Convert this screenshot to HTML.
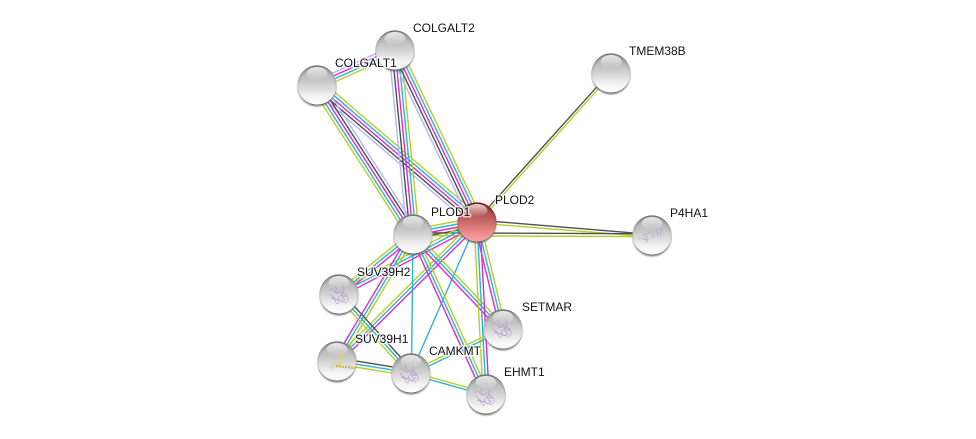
<!DOCTYPE html>
<html><head><meta charset="utf-8">
<style>
html,body{margin:0;padding:0;background:#fff;width:976px;height:439px;overflow:hidden}
svg{display:block}
text{font-family:"Liberation Sans",sans-serif;font-size:12px;fill:#111;paint-order:stroke;stroke:rgba(255,255,255,.7);stroke-width:3px}
.l{stroke:#b4b4fa}.k{stroke:#505050}.m{stroke:#d82cd8}.c{stroke:#2cb4d8}.g{stroke:#b4d028}
line{stroke-width:1.4;fill:none}
.s{fill:none;stroke:#b08ed0;stroke-width:.6;opacity:.85}
</style></head><body>
<svg width="976" height="439" viewBox="0 0 976 439" xmlns="http://www.w3.org/2000/svg">
<defs>
<linearGradient id="nb" x1="0" y1="0" x2="0" y2="1">
<stop offset="0" stop-color="#a4a4a4"/><stop offset=".45" stop-color="#cdcdcd"/><stop offset=".8" stop-color="#f4f4f4"/><stop offset="1" stop-color="#ffffff"/>
</linearGradient>
<linearGradient id="rb" x1="0" y1="0" x2="0" y2="1">
<stop offset="0" stop-color="#943434"/><stop offset=".45" stop-color="#c46464"/><stop offset=".8" stop-color="#f08e8e"/><stop offset="1" stop-color="#f8a4a4"/>
</linearGradient>
<linearGradient id="hl" x1="0" y1="0" x2="0" y2="1">
<stop offset="0" stop-color="#fff" stop-opacity=".8"/><stop offset="1" stop-color="#fff" stop-opacity="0"/>
</linearGradient>
<radialGradient id="rim" cx="50%" cy="58%" r="57%">
<stop offset=".8" stop-color="#555" stop-opacity="0"/><stop offset=".95" stop-color="#555" stop-opacity=".3"/><stop offset="1" stop-color="#444" stop-opacity=".7"/>
</radialGradient>
<radialGradient id="rrim" cx="50%" cy="58%" r="57%">
<stop offset=".8" stop-color="#601010" stop-opacity="0"/><stop offset=".95" stop-color="#601010" stop-opacity=".4"/><stop offset="1" stop-color="#500808" stop-opacity=".8"/>
</radialGradient>
<radialGradient id="sh" cx="50%" cy="50%" r="50%">
<stop offset=".86" stop-color="#444" stop-opacity=".8"/><stop offset="1" stop-color="#777" stop-opacity="0"/>
</radialGradient>
<g id="node">
<circle cx="0" cy="2.2" r="20.6" fill="url(#sh)"/>
<circle r="19.6" fill="url(#nb)"/>
<circle r="19.6" fill="url(#rim)"/>
<ellipse cx="0" cy="-11.5" rx="10.5" ry="6.5" fill="url(#hl)"/>
</g>
<g id="rnode">
<circle cx="0" cy="2.2" r="20.6" fill="url(#sh)"/>
<circle r="19.6" fill="url(#rb)"/>
<circle r="19.6" fill="url(#rrim)"/>
<ellipse cx="0" cy="-11.5" rx="10.5" ry="6.5" fill="url(#hl)"/>
</g>
<g id="prot">
<path class="s" d="M-11,-5 q3,-3 5,0 t4,2 q2,-4 5,-1 t4,3 q-3,3 -5,1 t-4,3 q-3,2 -5,-1 t-3,-4 M-6,-10 q3,1 2,4 t3,3 q3,-1 3,3 t3,3 q-1,3 -4,2 t-3,3 q-3,-1 -3,-4 t-3,-3 M3,-9 q2,2 0,4 t1,4 q3,0 4,3 t-2,4 M-9,3 q2,-2 4,0 t4,0 q1,3 4,3 t3,2"/>
</g>
</defs>

<!-- edges -->
<g>
<line class="l" x1="315.2" y1="80.9" x2="393.2" y2="45.9"/><line class="m" x1="316.4" y1="83.6" x2="394.4" y2="48.6"/><line class="c" x1="317.6" y1="86.4" x2="395.6" y2="51.4"/><line class="g" x1="318.8" y1="89.1" x2="396.8" y2="54.1"/>

<line class="l" x1="313.1" y1="89.6" x2="473.1" y2="226.6"/><line class="k" x1="315.05" y1="87.3" x2="475.05" y2="224.3"/><line class="m" x1="317" y1="85" x2="477" y2="222"/><line class="c" x1="318.95" y1="82.7" x2="478.95" y2="219.7"/><line class="g" x1="320.9" y1="80.4" x2="480.9" y2="217.4"/>

<line class="l" x1="322" y1="81.8" x2="418" y2="230.8"/><line class="k" x1="319.5" y1="83.4" x2="415.5" y2="232.4"/><line class="m" x1="317" y1="85" x2="413" y2="234"/><line class="c" x1="314.5" y1="86.6" x2="410.5" y2="235.6"/><line class="g" x1="312" y1="88.2" x2="408" y2="237.2"/>

<line class="l" x1="389" y1="50.6" x2="407" y2="234.6"/><line class="k" x1="392" y1="50.3" x2="410" y2="234.3"/><line class="m" x1="395" y1="50" x2="413" y2="234"/><line class="c" x1="398" y1="49.7" x2="416" y2="233.7"/><line class="g" x1="401" y1="49.4" x2="419" y2="233.4"/>

<line class="l" x1="389.6" y1="52.6" x2="471.6" y2="224.6"/><line class="k" x1="392.3" y1="51.3" x2="474.3" y2="223.3"/><line class="m" x1="395" y1="50" x2="477" y2="222"/><line class="c" x1="397.7" y1="48.7" x2="479.7" y2="220.7"/><line class="g" x1="400.4" y1="47.4" x2="482.4" y2="219.4"/>

<line class="k" x1="610.1" y1="72.2" x2="476.1" y2="221.2"/><line class="g" x1="611.9" y1="73.8" x2="477.9" y2="222.8"/>

<line class="k" x1="477" y1="220" x2="652" y2="234.5"/><line class="g" x1="477" y1="223" x2="652" y2="237"/>
<line class="k" x1="413" y1="232.8" x2="652" y2="233.8"/><line class="g" x1="413" y1="235.6" x2="652" y2="236.6"/>

<line class="g" x1="412.2" y1="229.6" x2="476.2" y2="217.6"/><line class="c" x1="412.7" y1="232.5" x2="476.7" y2="220.5"/><line class="m" x1="413.3" y1="235.5" x2="477.3" y2="223.5"/><line class="k" x1="413.8" y1="238.4" x2="477.8" y2="226.4"/>

<line class="g" x1="411.1" y1="231.7" x2="337.1" y2="291.7"/><line class="c" x1="413" y1="234" x2="339" y2="294"/><line class="m" x1="414.9" y1="236.3" x2="340.9" y2="296.3"/>
<line class="g" x1="475.6" y1="219.3" x2="337.6" y2="291.3"/><line class="c" x1="477" y1="222" x2="339" y2="294"/><line class="m" x1="478.4" y1="224.7" x2="340.4" y2="296.7"/>

<line class="m" x1="410.4" y1="232.5" x2="334.4" y2="359.5"/><line class="c" x1="413" y1="234" x2="337" y2="361"/><line class="g" x1="415.6" y1="235.5" x2="339.6" y2="362.5"/>
<line class="g" x1="474.9" y1="219.9" x2="334.9" y2="358.9"/><line class="c" x1="477" y1="222" x2="337" y2="361"/><line class="m" x1="479.1" y1="224.1" x2="339.1" y2="363.1"/>

<line class="c" x1="413" y1="234" x2="411.5" y2="373"/>
<line class="c" x1="477" y1="222" x2="411" y2="373"/>

<line class="k" x1="341.2" y1="292" x2="413.2" y2="371"/><line class="c" x1="339" y1="294" x2="411" y2="373"/><line class="g" x1="336.8" y1="296" x2="408.8" y2="375"/>

<line class="m" x1="410.8" y1="236.1" x2="500.8" y2="331.1"/><line class="c" x1="413" y1="234" x2="503" y2="329"/><line class="g" x1="415.2" y1="231.9" x2="505.2" y2="326.9"/>
<line class="m" x1="474.1" y1="222.7" x2="500.1" y2="329.7"/><line class="c" x1="477" y1="222" x2="503" y2="329"/><line class="g" x1="479.9" y1="221.3" x2="505.9" y2="328.3"/>

<line class="m" x1="410.3" y1="235.3" x2="483.3" y2="395.3"/><line class="c" x1="413" y1="234" x2="486" y2="394"/><line class="g" x1="415.7" y1="232.8" x2="488.7" y2="392.8"/>
<line class="g" x1="474" y1="222" x2="483" y2="394"/><line class="c" x1="477" y1="222" x2="486" y2="394"/><line class="m" x1="480" y1="222" x2="489" y2="394"/>

<line class="k" x1="337.5" y1="358" x2="411.5" y2="370"/><line class="c" x1="337" y1="361" x2="411" y2="373"/><line class="g" x1="336.5" y1="364" x2="410.5" y2="376"/>
<line class="g" x1="411.35" y1="371.75" x2="486.35" y2="392.75"/><line class="c" x1="410.65" y1="374.25" x2="485.65" y2="395.25"/>
<line class="g" x1="410.4" y1="371.8" x2="502.4" y2="327.8"/><line class="c" x1="411.6" y1="374.2" x2="503.6" y2="330.2"/>
</g>

<!-- nodes -->
<use href="#node" x="395" y="50"/>
<use href="#node" x="317" y="85"/>
<use href="#node" x="611" y="73"/>
<use href="#node" x="413" y="234"/>
<use href="#rnode" x="477" y="222"/>
<use href="#node" x="652" y="235"/>
<use href="#node" x="339" y="294"/>
<use href="#node" x="503" y="329"/>
<use href="#node" x="337" y="361"/>
<use href="#node" x="411" y="373"/>
<use href="#node" x="486" y="394"/>

<!-- structures -->
<use href="#prot" x="340" y="296"/>
<use href="#prot" x="503" y="330"/>
<use href="#prot" x="410" y="375"/>
<use href="#prot" x="486" y="398"/>
<path class="s" d="M645,243 q3,-3 0,-5 t1,-5 M647,242 q2,-3 0,-5 t2,-5 M652,238 q3,-2 1,-4 t2,-3 M657,237 q2,-3 0,-5 t2,-4 M660,236 q2,-3 1,-5 t1,-3 M638,238 l9,2" />
<path d="M331,370 l3,-7 l3,-1 l-2,5 M338,367 l4,-14 l1,6 l-3,8" fill="none" stroke="#dcd47c" stroke-width="1"/>
<path d="M336,366 l19,2" fill="none" stroke="#ccb450" stroke-width="2.2" stroke-dasharray="2 1"/>

<!-- labels -->
<text x="413" y="32">COLGALT2</text>
<text x="335" y="67">COLGALT1</text>
<text x="629" y="55">TMEM38B</text>
<text x="495" y="204">PLOD2</text>
<text x="431" y="216">PLOD1</text>
<text x="670" y="217">P4HA1</text>
<text x="357" y="276">SUV39H2</text>
<text x="522" y="311">SETMAR</text>
<text x="355" y="343">SUV39H1</text>
<text x="429" y="355">CAMKMT</text>
<text x="504" y="376">EHMT1</text>
</svg>
</body></html>
